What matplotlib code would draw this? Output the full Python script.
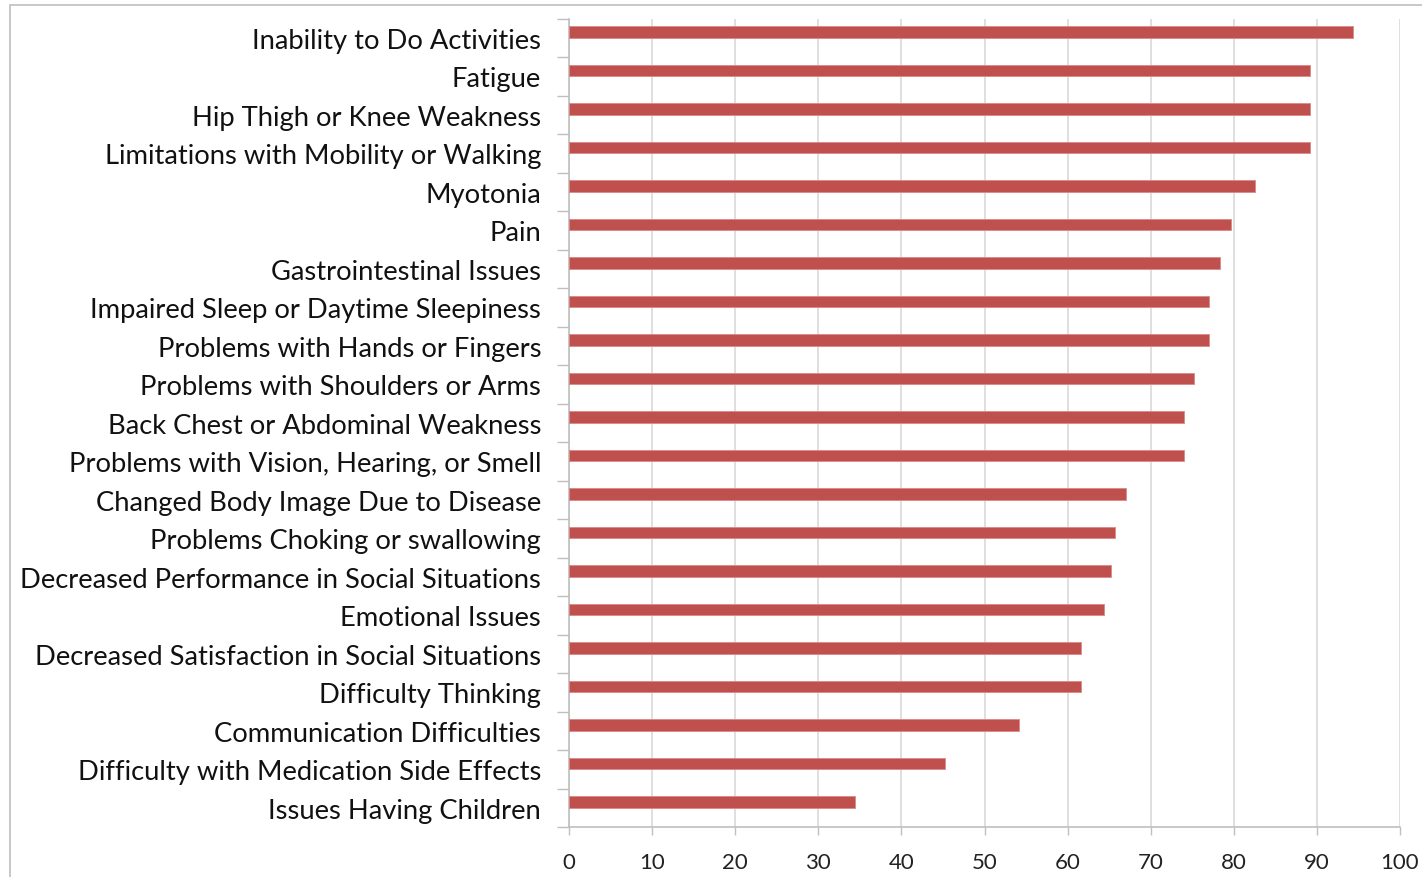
import matplotlib.pyplot as plt
from matplotlib.patches import Rectangle
import numpy as np

symptoms = [
    "Inability to Do Activities",
    "Fatigue",
    "Hip Thigh or Knee Weakness",
    "Limitations with Mobility or Walking",
    "Myotonia",
    "Pain",
    "Gastrointestinal Issues",
    "Impaired Sleep or Daytime Sleepiness",
    "Problems with Hands or Fingers",
    "Problems with Shoulders or Arms",
    "Back Chest or Abdominal Weakness",
    "Problems with Vision, Hearing, or Smell",
    "Changed Body Image Due to Disease",
    "Problems Choking or swallowing",
    "Decreased Performance in Social Situations",
    "Emotional Issues",
    "Decreased Satisfaction in Social Situations",
    "Difficulty Thinking",
    "Communication Difficulties",
    "Difficulty with Medication Side Effects",
    "Issues Having Children",
]
percent = [94.4, 89.2, 89.2, 89.2, 82.6, 79.7, 78.3, 77.0, 77.0, 75.2, 74.0,
           74.0, 67.0, 65.7, 65.2, 64.4, 61.6, 61.6, 54.2, 45.2, 34.4]
xticks = list(range(0, 101, 10))

plt.rcParams['font.family'] = ['Lato', 'DejaVu Sans']

fig = plt.figure(figsize=(14.22, 8.78), dpi=100)
ax = fig.add_axes([569 / 1422, 50 / 878, 831 / 1422, 808.5 / 878])

# outer chart frame
fig.patches.append(Rectangle((10 / 1422, -0.01), 1.02, 0.9932 - (-0.01),
                             transform=fig.transFigure, fill=False,
                             edgecolor='#BFBFBF', linewidth=1.2))

n = len(symptoms)
pos = np.arange(n)
ax.barh(pos - 0.15, percent, height=0.29, color='#C0504D',
        edgecolor='#D88A88', linewidth=0.6, zorder=3)

ax.set_xlim(0, 100)
ax.set_ylim(n - 0.5, -0.5)
ax.set_xticks(xticks)
ax.set_xticklabels([str(t) for t in xticks], fontsize=16, color='#222222')
ax.set_yticks(pos)
ax.set_yticklabels(symptoms, fontsize=19.7, color='#111111')
ax.set_yticks(np.arange(-0.5, n, 1), minor=True)
ax.tick_params(axis='y', which='major', length=0, pad=20)
ax.tick_params(axis='y', which='minor', length=9, color='#BFBFBF', width=1)
ax.tick_params(axis='x', length=6, color='#BFBFBF', width=1, pad=12)

ax.grid(axis='x', color='#D9D9D9', linewidth=1.2, zorder=0)
for side in ['top', 'right']:
    ax.spines[side].set_visible(False)
for side in ['left', 'bottom']:
    ax.spines[side].set_color('#BFBFBF')
    ax.spines[side].set_linewidth(1.2)

fig.savefig('out.png', dpi=100)
